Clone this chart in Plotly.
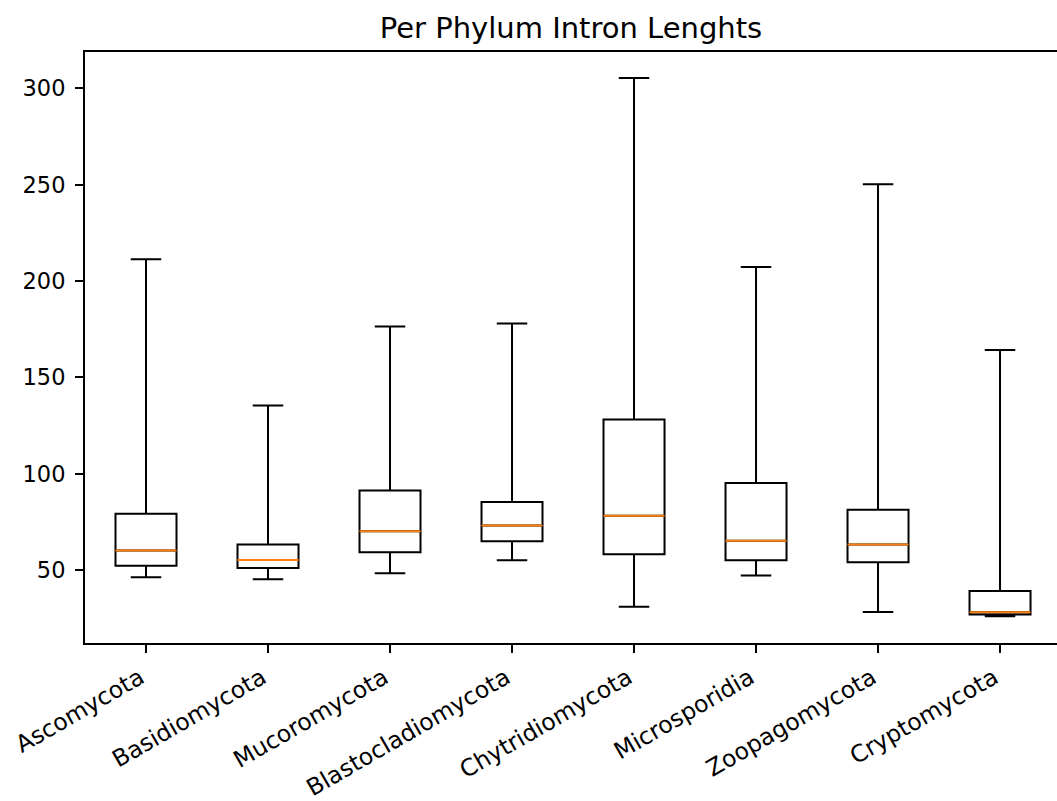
import plotly.graph_objects as go

phyla = ["Ascomycota", "Basidiomycota", "Mucoromycota", "Blastocladiomycota",
         "Chytridiomycota", "Microsporidia", "Zoopagomycota", "Cryptomycota"]
lower_whisker = [46.2, 45.2, 48.3, 55.0, 30.9, 47.1, 28.1, 26.0]
q1 = [52.2, 51.0, 59.2, 64.9, 58.2, 55.0, 54.0, 26.9]
median = [60.1, 55.2, 70.1, 73.1, 78.1, 65.1, 63.2, 28.0]
q3 = [79.2, 63.2, 91.3, 85.3, 128.1, 95.1, 81.25, 39.1]
upper_whisker = [211.3, 135.4, 176.4, 178.0, 305.4, 207.3, 250.3, 164.2]
y_ticks = [50, 100, 150, 200, 250, 300]

FONT = "DejaVu Sans"

fig = go.Figure()
fig.add_trace(go.Box(
    x=phyla, q1=q1, median=median, q3=q3,
    lowerfence=lower_whisker, upperfence=upper_whisker,
    width=0.5, whiskerwidth=0.5,
    line=dict(color="black", width=2),
    fillcolor="rgba(0,0,0,0)",
    boxpoints=False, showlegend=False, hoverinfo="skip",
))
# median lines in orange
fig.add_trace(go.Box(
    x=phyla, q1=median, median=median, q3=median,
    lowerfence=median, upperfence=median,
    width=0.5, whiskerwidth=0,
    line=dict(color="#ff7f0e", width=2),
    fillcolor="rgba(0,0,0,0)",
    boxpoints=False, showlegend=False, hoverinfo="skip",
))

fig.update_layout(
    width=1057, height=801,
    margin=dict(l=85, r=0, t=52, b=158),
    paper_bgcolor="white", plot_bgcolor="white",
    boxmode="overlay",
    font=dict(family=FONT, size=22, color="black"),
    title=dict(text="Per Phylum Intron Lenghts", x=0.5, xref="paper", xanchor="center",
               y=1 - 28 / 801, yref="container", yanchor="middle",
               font=dict(family=FONT, size=29, color="black")),
    xaxis=dict(type="category", categoryorder="array", categoryarray=phyla,
               range=[-0.5, 7.467], showgrid=False, zeroline=False,
               showline=True, linecolor="black", linewidth=2, mirror=True,
               ticks="outside", ticklen=8, tickwidth=2, tickcolor="black",
               tickangle=-30, ticklabelshift=-6, ticklabelstandoff=2,
               tickfont=dict(family=FONT, size=23.5, color="black")),
    yaxis=dict(range=[12.05, 318.95], showgrid=False, zeroline=False,
               showline=True, linecolor="black", linewidth=2, mirror=False,
               tickvals=y_ticks, ticks="outside", ticklen=8, tickwidth=2, tickcolor="black",
               ticklabelstandoff=5,
               tickfont=dict(family=FONT, size=22.5, color="black")),
)

fig.write_html("out.html")
